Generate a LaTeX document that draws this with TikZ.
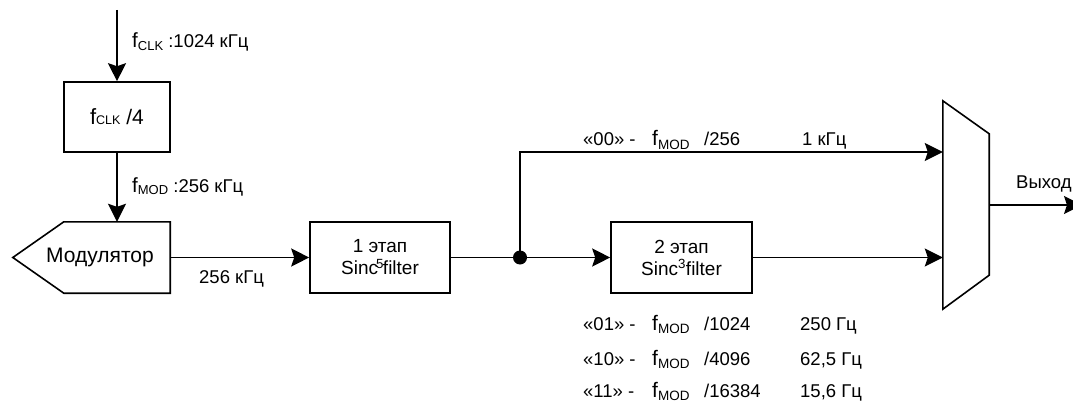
\documentclass[tikz,border=0pt]{standalone}
\usepackage{fontspec}
\setmainfont{Liberation Sans}
\usetikzlibrary{positioning,arrows.meta}
\tikzstyle{stage} = [
    rectangle,
    draw,
    line width = 1.6pt,
    text centered,
    align = center,
    minimum width = 140pt,
    minimum height = 71pt,
    font = \fontsize{19}{22}\selectfont
]
\tikzstyle{wire} = [line width = 1.6pt]
\tikzstyle{sig} = [wire, -{Stealth[length=18pt, width=18pt, inset=3pt]}]
\tikzstyle{lbl} = [anchor = base west, inner sep = 0pt, font = \fontsize{18.5}{21}\selectfont]
\newcommand{\fsub}[1]{{\fontsize{20.5}{21}\selectfont f}\raisebox{-0.3ex}{\fontsize{13}{13}\selectfont #1}}
\newcommand{\fmod}{{\fontsize{21}{21}\selectfont f}\raisebox{-0.4ex}{\fontsize{13.5}{13}\selectfont MOD}}

\begin{document}
\begin{tikzpicture}[x=1pt, y=-1pt]
    \useasboundingbox (0,0) rectangle (1073,401);
    % blocks
    \coordinate (clk) at (117,10);
    \node[stage, minimum width = 106pt, minimum height = 70pt, font = \fontsize{21}{24}\selectfont] (div) at (117,117) {{\fontsize{22}{24}\selectfont f}{\fontsize{12.5}{12}\selectfont CLK} /4};
    \node[minimum width = 157pt, minimum height = 71pt, inner sep = 0pt] (mod) at (91.5,257.5) {};
    \node[font = \fontsize{21}{24}\selectfont] (modtext) at (100,257.5) {Модулятор};
    \node[stage] (s1) at (380,257.5) {1 этап\\Sinc\kern-2pt\textsuperscript{5}\kern-1pt filter};
    \node[stage, minimum width = 141pt] (s2) at (681.5,257.5) {2 этап\\Sinc\textsuperscript{3}filter};
    \coordinate (jn) at (520,257.5);
    \node[minimum width = 46pt, minimum height = 208pt, inner sep = 0pt] (mux) at (966,205) {};
    \coordinate (out) at (1082,205);

    % outlines
    \draw[wire] (mod.west) -- ([xshift=51pt]mod.north west) -- (mod.north east)
        -- (mod.south east) -- ([xshift=51pt]mod.south west) -- cycle;
    \draw[wire] (mux.north west) -- ([yshift=-33pt]mux.north east)
        -- ([yshift=34pt]mux.south east) -- (mux.south west) -- cycle;

    % connections
    \draw[sig] (clk) -- (div);
    \draw[sig] (div) -- (div |- mod.north);
    \draw[sig] (mod.east) -- (s1);
    \draw[wire] (s1) -- (jn);
    \draw[sig] (jn) -- (s2);
    \draw[sig] (jn) |- ([yshift=53pt]mux.west);
    \draw[sig] (s2) -- ([yshift=-52.5pt]mux.west);
    \draw[sig] (mux.east) -- (out);
    \fill (jn) circle (7pt);

    % labels
    \node[lbl] (clklbl) at (132,48) {\fsub{CLK} :1024 кГц};
    \node[lbl] (modlbl) at (132,192) {\fsub{MOD} :256 кГц};
    \node[lbl] (rate) at (199,283) {256 кГц};
    \node[lbl] (outlbl) at (1016,188) {Выход};

    \node[lbl] (c00) at (583,146) {«00» -};
    \node[lbl] (f00) at (652,146) {\fmod};
    \node[lbl] (d00) at (704,146) {/256};
    \node[lbl] (r00) at (802,146) {1 кГц};

    \node[lbl] (c01) at (583,330) {«01» -};
    \node[lbl] (f01) at (652,330) {\fmod};
    \node[lbl] (d01) at (704,330) {/1024};
    \node[lbl] (r01) at (800,330) {250 Гц};

    \node[lbl] (c10) at (583,365) {«10» -};
    \node[lbl] (f10) at (652,365) {\fmod};
    \node[lbl] (d10) at (704,365) {/4096};
    \node[lbl] (r10) at (800,365) {62,5 Гц};

    \node[lbl] (c11) at (583,397) {«11» -};
    \node[lbl] (f11) at (652,397) {\fmod};
    \node[lbl] (d11) at (704,397) {/16384};
    \node[lbl] (r11) at (800,397) {15,6 Гц};
\end{tikzpicture}
\end{document}
